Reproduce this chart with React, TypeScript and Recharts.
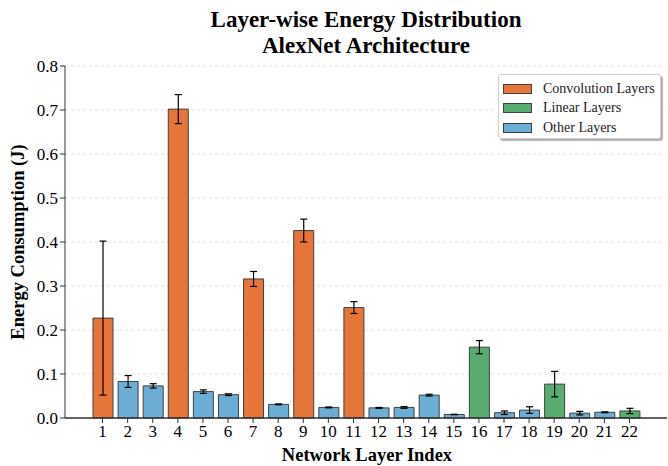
import React from 'react';
import { BarChart, Bar, XAxis, YAxis, CartesianGrid, Cell, ErrorBar, ReferenceLine } from 'recharts';

const layers = ['1', '2', '3', '4', '5', '6', '7', '8', '9', '10', '11', '12', '13', '14', '15', '16', '17', '18', '19', '20', '21', '22'];
const energy = [0.227, 0.083, 0.073, 0.702, 0.060, 0.053, 0.316, 0.031, 0.426, 0.024, 0.251, 0.023, 0.024, 0.052, 0.008, 0.161, 0.012, 0.018, 0.077, 0.011, 0.013, 0.016];
const errors = [0.175, 0.0135, 0.005, 0.033, 0.004, 0.002, 0.017, 0.001, 0.026, 0.001, 0.0135, 0.001, 0.002, 0.002, 0.0005, 0.015, 0.004, 0.0075, 0.029, 0.004, 0.001, 0.006];
const layerTypes = ['conv', 'other', 'other', 'conv', 'other', 'other', 'conv', 'other', 'conv', 'other', 'conv', 'other', 'other', 'other', 'other', 'linear', 'other', 'other', 'linear', 'other', 'other', 'linear'];
const yTicks = [0, 0.1, 0.2, 0.3, 0.4, 0.5, 0.6, 0.7, 0.8];

const TYPE_COLORS: Record<string, string> = {
  conv: '#e6753a',
  linear: '#58ac70',
  other: '#6badd5',
};

const legendItems = [
  { key: 'conv', label: 'Convolution Layers' },
  { key: 'linear', label: 'Linear Layers' },
  { key: 'other', label: 'Other Layers' },
];

const data = layers.map((layer, i) => ({
  layer,
  energy: energy[i],
  err: errors[i],
  type: layerTypes[i],
}));

const FONT = '"Liberation Serif", "DejaVu Serif", serif';
const AXIS = '#333';

export default function App() {
  return (
    <div style={{ position: 'absolute', left: 0, top: 0, width: 668, height: 466, background: '#fff', fontFamily: FONT }}>
      <div style={{ position: 'absolute', left: 116, width: 500, top: 7, textAlign: 'center', fontSize: 23, fontWeight: 'bold', lineHeight: '26px', color: '#000' }}>
        Layer-wise Energy Distribution
        <br />
        AlexNet Architecture
      </div>

      <BarChart width={668} height={466} data={data} margin={{ top: 66, right: 1, bottom: 18, left: 0 }}>
        <CartesianGrid horizontal vertical={false} strokeDasharray="3 3" stroke="#e0e0e0" />
        <XAxis
          dataKey="layer"
          interval={0}
          padding={{ left: 25, right: 25 }}
          height={30}
          tickSize={5}
          tick={{ fill: '#000', fontSize: 17, fontFamily: FONT }}
          tickLine={{ stroke: AXIS }}
          axisLine={{ stroke: AXIS }}
        />
        <XAxis xAxisId="top" dataKey="layer" orientation="top" height={0} tick={false} tickLine={false} axisLine={{ stroke: AXIS }} />
        <YAxis
          domain={[0, 0.8]}
          ticks={yTicks}
          width={65}
          tickSize={5}
          tickFormatter={(v: number) => v.toFixed(1)}
          tick={{ fill: '#000', fontSize: 17, fontFamily: FONT }}
          tickLine={{ stroke: AXIS }}
          axisLine={{ stroke: AXIS }}
        />
        <YAxis yAxisId="right" orientation="right" domain={[0, 0.8]} width={0} tick={false} tickLine={false} axisLine={{ stroke: AXIS }} />
        <Bar dataKey="energy" barSize={20} stroke="#404040" strokeWidth={1} isAnimationActive={false}>
          {data.map((d, i) => (
            <Cell key={`cell-${i}`} fill={TYPE_COLORS[d.type]} />
          ))}
          <ErrorBar dataKey="err" direction="y" width={3.5} stroke="#000" strokeWidth={1.2} isAnimationActive={false} />
        </Bar>
        <ReferenceLine y={0} stroke={AXIS} />
      </BarChart>

      <div style={{ position: 'absolute', left: 0, width: 668, top: 445, paddingLeft: 66, boxSizing: 'border-box', textAlign: 'center', fontSize: 18.5, fontWeight: 'bold', color: '#000' }}>
        Network Layer Index
      </div>

      <div style={{ position: 'absolute', left: 18, top: 242, width: 0, height: 0 }}>
        <div style={{ position: 'absolute', transform: 'translate(-50%, -50%) rotate(-90deg)', whiteSpace: 'nowrap', fontSize: 18.5, fontWeight: 'bold', color: '#000' }}>
          Energy Consumption (J)
        </div>
      </div>

      <div style={{ position: 'absolute', left: 498, top: 74, width: 163, height: 65, boxSizing: 'border-box', border: '1px solid #cfcfcf', borderRadius: 3, background: '#fff', boxShadow: '2px 2px 1px rgba(0,0,0,0.3)', padding: '4px 0 0 4px' }}>
        {legendItems.map((item) => (
          <div key={item.key} style={{ display: 'flex', alignItems: 'center', height: 19.5 }}>
            <span style={{ width: 29, height: 10, boxSizing: 'border-box', border: '1px solid #404040', background: TYPE_COLORS[item.key], display: 'inline-block' }} />
            <span style={{ marginLeft: 11, fontSize: 14, color: '#222' }}>{item.label}</span>
          </div>
        ))}
      </div>
    </div>
  );
}
